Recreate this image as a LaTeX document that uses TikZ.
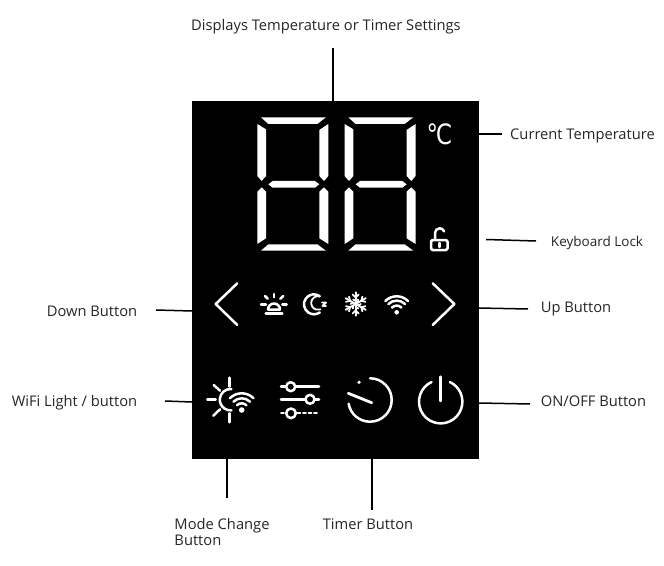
\documentclass[tikz,border=0pt]{standalone}
\usepackage{fontspec}
\setmainfont{Open Sans}
\newfontfamily\iconfont{DejaVu Sans}
\tikzset{
  lbl/.style={inner sep=0pt,text=black!85,font=\fontsize{14.7bp}{16bp}\selectfont},
  smalllbl/.style={lbl,font=\fontsize{13.5bp}{15bp}\selectfont},
  leader/.style={draw=black,line width=1.5bp},
  ico/.style={draw=white,line width=2.5bp,line cap=round,line join=round},
  icothin/.style={ico,line width=1.8bp},
  seg/.style={fill=white,draw=none},
}
\newcommand\ringarc[6][ico]{\draw[#1] (#2,#3) ++(#5:#4bp) arc[start angle=#5,end angle=#6,radius=#4bp];}
\begin{document}
\begin{tikzpicture}[x=1bp,y=-1bp]
\useasboundingbox (0,0) rectangle (664,566);
\fill[white] (0,0) rectangle (664,566);
\node[fill=black,inner sep=0pt,minimum width=287bp,minimum height=358bp] (panel) at (335.5,280) {};
% labels
\node[lbl] (ltop) at (326,26.5) {Displays Temperature or Timer Settings};
\node[lbl] (lcur) at (582.5,135.5) {Current Temperature};
\node[smalllbl] (llock) at (597,242.5) {Keyboard Lock};
\node[lbl] (lup) at (576,309.5) {Up Button};
\node[lbl] (lonoff) at (593.5,401.5) {ON/OFF Button};
\node[lbl] (ldown) at (92,311.5) {Down Button};
\node[lbl] (lwifi) at (74.5,402.5) {WiFi Light / button};
\node[lbl,align=left,font=\fontsize{14.7bp}{16bp}\selectfont] (lmode) at (222,532) {Mode Change\\Button};
\node[lbl] (ltimer) at (368,524.5) {Timer Button};
% leader ends
\coordinate (atop) at (333,48);
\coordinate (acur) at (502,134);
\coordinate (alockA) at (486,239.5);
\coordinate (alockB) at (536,241);
\coordinate (aup) at (528,309);
\coordinate (aonoff) at (530,404);
\coordinate (adown) at (156,310);
\coordinate (awifi) at (165,401);
\coordinate (amode) at (227,498);
\coordinate (atimer) at (372,510);
\draw[leader] (atop) -- (atop |- panel.north);
\draw[leader] (acur) -- (acur -| panel.east);
\draw[leader] (alockA) -- (alockB);
\draw[leader] (aup) -- (479,308);
\draw[leader] (aonoff) -- (479,403);
\draw[leader] (adown) -- (192,311);
\draw[leader] (awifi) -- (192,402);
\draw[leader] (amode) -- (amode |- panel.south);
\draw[leader] (atimer) -- (atimer |- panel.south);
% digits
\foreach \dx in {0,87.3}{
\begin{scope}[shift={(\dx,0)}]
\fill[seg] (261,117.3)--(326,117.3)--(317.3,124)--(268.3,124)--cycle;
\fill[seg] (257.3,124)--(266,129.3)--(266,176)--(261.7,181)--(257.3,176)--cycle;
\fill[seg] (328.3,124)--(319.3,130)--(319.3,176)--(324,181)--(328.3,176)--cycle;
\fill[seg] (268.3,184.3)--(272.7,181)--(315,181)--(319.3,184.3)--(315,187.7)--(272.7,187.7)--cycle;
\fill[seg] (257.3,191.7)--(261.7,187.3)--(266,191.7)--(266,238.3)--(257.3,244)--cycle;
\fill[seg] (328.3,191.7)--(324,187.3)--(319.3,191.7)--(319.3,238.3)--(328.3,244)--cycle;
\fill[seg] (261,250.7)--(268.3,244.3)--(317.3,244.3)--(326,250.7)--cycle;
\end{scope}}
% degree C
\node[inner sep=0pt,text=white,font=\iconfont\fontsize{28bp}{28bp}\selectfont] (deg) at (439.5,134.5) {\scalebox{0.82}[1]{℃}};
% lock
\draw[ico,rounded corners=1.5bp] (431,250) -- (431,240) -- (447.5,240) -- (447.5,250) -- cycle;
\draw[ico] (435,239) -- (435,233) arc[start angle=180,end angle=20,radius=4.7bp];
\draw[ico] (439.3,243) -- (439.3,247);
% chevrons
\draw[ico] (237.3,283.3) -- (215.7,304) -- (237.3,325);
\draw[ico] (432.7,283.3) -- (454.3,304) -- (432.7,325);
% alarm sun
\draw[ico] (265.7,313.3) -- (282.3,313.3);
\draw[ico] (268,309.5) arc[start angle=180,end angle=0,radius=6bp] -- cycle;
\draw[ico] (261,304.3) -- (266,304.3);
\draw[ico] (282.3,304.3) -- (286.7,304.3);
\draw[ico] (274,294) -- (274,297.3);
\draw[ico] (265,296) -- (267.7,298.7);
\draw[ico] (283.3,296) -- (280.3,298.7);
% moon
\ringarc{314}{304.3}{10}{55}{305}
\ringarc[icothin]{318}{303}{6.8}{75}{290}
\draw[icothin] (322,302.5) -- (326,302.5) -- (322.5,306) -- (326,306);
% snowflake
\begin{scope}[shift={(355.7,304)}]
\foreach \a in {30,90,150,210,270,330}{
  \draw[icothin] (0,0) -- (\a:11.7bp);
  \draw[icothin] (\a:6.5bp) -- ++(\a+45:4.2bp);
  \draw[icothin] (\a:6.5bp) -- ++(\a-45:4.2bp);
  \draw[icothin] (\a:3bp) -- ++(\a+60:3bp);
}
\end{scope}
% small wifi
\fill[white] (396.7,312.3) circle[radius=2.3bp];
\ringarc{396.7}{312.3}{6.7}{45}{135}
\ringarc{396.7}{312.3}{11.7}{45}{135}
\ringarc{396.7}{312.3}{16}{45}{135}
% big sun with wifi
\draw[ico] (229.7,377.7) -- (229.7,386.7);
\draw[ico] (213.7,385) -- (220,390.7);
\draw[ico] (207.3,399.7) -- (215.7,399.7);
\draw[ico] (213.3,415.7) -- (220,409.3);
\draw[ico] (229.7,413.3) -- (229.7,422.3);
\ringarc{230.5}{399.7}{10.7}{85}{275}
\fill[white] (241.7,410) circle[radius=2.8bp];
\ringarc{241.7}{410}{6.7}{45}{135}
\ringarc{241.7}{410}{11.7}{45}{135}
\ringarc{241.7}{410}{16.7}{45}{135}
% sliders
\draw[ico] (281,386.7) -- (319,386.7);
\draw[ico] (281,399.3) -- (319,399.3);
\draw[icothin,dash pattern=on 3bp off 2.5bp] (281,413.3) -- (319,413.3);
\draw[ico,fill=black] (290.7,386.7) circle[radius=4.5bp];
\draw[ico,fill=black] (310,399.3) circle[radius=4.5bp];
\draw[ico,fill=black] (291,413.3) circle[radius=4.8bp];
% timer
\ringarc{370}{400}{21.7}{90}{-170}
\fill[white] (359,382.3) circle[radius=1.8bp];
\draw[ico,line width=2.8bp] (348.3,393.3) -- (371.7,402.7);
% power
\ringarc{440.7}{401.7}{21.7}{115}{425}
\draw[ico] (440.7,376.7) -- (440.7,401);
\end{tikzpicture}
\end{document}
